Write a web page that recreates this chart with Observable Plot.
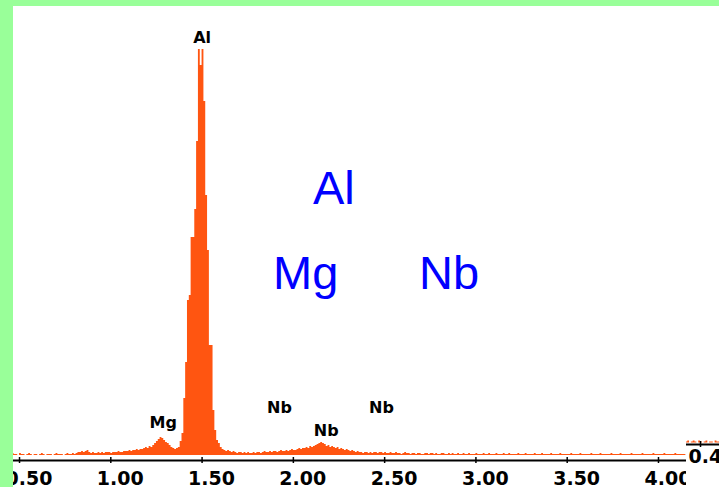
<!DOCTYPE html>
<html>
<head>
<meta charset="utf-8">
<script src="https://cdn.jsdelivr.net/npm/d3@7"></script>
<script src="https://cdn.jsdelivr.net/npm/@observablehq/plot@0.6"></script>
<style>
  html, body { margin: 0; padding: 0; }
  body { width: 719px; height: 487px; background: #99ff99; position: relative; overflow: hidden; }
  #main { position: absolute; left: 13px; top: 6px; }
  #inset { position: absolute; left: 686px; top: 420px; }
  .big { position: absolute; font-family: "Liberation Sans", Arial, sans-serif; font-size: 47px; line-height: 1; color: #0000ff; white-space: pre; }
</style>
</head>
<body>
<div id="main"></div>
<div id="inset"></div>
<div class="big" style="left:313px; top:164px;">Al</div>
<div class="big" style="left:273px; top:249px;">Mg</div>
<div class="big" style="left:419px; top:249px;">Nb</div>
<script>
// ---- data ----
const energyStart = 0.46;   // keV, first channel
const channelWidth = 0.01;  // keV per channel
const counts = [
  2,1,1,0,2,1,1,0,1,2,
  1,0,1,1,0,1,2,1,0,1,
  1,1,0,1,2,1,1,1,0,1,
  2,1,1,2,1,2,3,3,4,3,
  4,5,3,2,3,2,2,3,2,3,
  2,3,3,3,2,3,3,3,4,3,
  3,4,4,4,5,4,5,5,6,5,
  6,6,7,8,7,9,8,10,12,14,
  16,18,17,15,13,12,10,8,7,6,
  7,8,14,22,57,93,155,160,218,218,
  246,314,406,390,406,354,260,205,110,110,
  45,25,15,12,8,6,5,4,5,4,
  3,4,3,2,3,3,2,3,2,3,
  2,2,3,2,3,3,2,3,4,3,
  3,4,3,4,4,3,4,5,4,4,
  5,4,5,6,5,5,6,7,6,7,
  7,8,7,9,8,9,10,11,12,13,
  12,11,9,10,8,9,8,7,8,6,
  7,6,5,6,5,4,5,4,3,4,
  3,3,2,3,3,2,3,2,3,3,
  2,3,3,2,3,2,2,3,2,2,
  3,2,2,1,2,3,2,2,1,2,
  2,1,2,2,1,1,2,2,1,2,
  2,1,2,1,1,2,2,1,1,2,
  1,2,1,1,2,1,1,2,1,1,
  2,1,1,1,2,1,1,1,2,1,
  1,2,1,1,1,2,1,1,1,2,
  1,1,2,1,1,1,1,2,1,1,
  1,2,1,1,1,1,2,1,1,1,
  2,1,1,1,1,2,1,1,1,1,
  2,1,1,1,1,1,2,1,1,1,
  1,2,1,1,1,1,1,2,1,1,
  1,1,2,1,1,1,1,1,2,1,
  1,1,1,2,1,1,1,1,1,2,
  1,1,1,1,1,2,1,1,1,1,
  1,2,1,1,1,1,1,2,1,1,
  1,1,1,2,1,1,1,1,1
];
const xTicks = [0.5, 1.0, 1.5, 2.0, 2.5, 3.0, 3.5, 4.0];
const peakLabels = ["Al", "Mg", "Nb", "Nb", "Nb"];
const peakEnergies = [1.50, 1.287, 1.924, 2.18, 2.483];
const peakLabelLevels = [417.5, 32.5, 48, 25, 47.5];

// neighbouring panel (partially visible at right edge)
const insetStart = 0.32;
const insetCounts = [1,2,0,1,2,1,0,2,1,0,1,2,0,1,1,0,2,1,1];
const insetTicks = [0.4];

// ---- tables ----
const spectrum = counts.map((c, i) => ({e: energyStart + i * channelWidth, c}));
spectrum.push({e: energyStart + counts.length * channelWidth, c: counts[counts.length - 1]});
const labels = peakLabels.map((label, i) => ({label, e: peakEnergies[i], level: peakLabelLevels[i]}));
const inset = insetCounts.map((c, i) => ({e: insetStart + i * channelWidth, c}));
inset.push({e: insetStart + insetCounts.length * channelWidth, c: insetCounts[insetCounts.length - 1]});

const red = "#ff5511";

const main = Plot.plot({
  width: 706, height: 481,
  marginLeft: 0, marginRight: 34, marginTop: 39, marginBottom: 27,
  x: {domain: [0.467, 4.148], label: null},
  y: {domain: [0, 410], axis: null, insetBottom: 5, label: null},
  style: {background: "white", overflow: "hidden", fontFamily: "DejaVu Sans, sans-serif", color: "black"},
  marks: [
    Plot.areaY(spectrum, {x: "e", y: "c", curve: "step-after", fill: red}),
    Plot.frame({anchor: "bottom", stroke: "black", strokeWidth: 2}),
    Plot.axisX(xTicks, {tickSize: 6, dy: -3, tickFormat: () => "", stroke: "black", strokeWidth: 1.5, strokeOpacity: 1}),
    Plot.axisX(xTicks, {tickSize: 0, tickPadding: 11, tickFormat: d3.format(".2f"), textAnchor: "start", dx: -14, fontSize: 19, fontWeight: "bold", fill: "black"}),
    Plot.text(labels, {x: "e", y: "level", text: "label", fontSize: 16, fontWeight: "bold", fill: "black", lineAnchor: "middle", letterSpacing: "0.5px"})
  ]
});
document.getElementById("main").appendChild(main);

const side = Plot.plot({
  width: 33, height: 67,
  marginLeft: 0, marginRight: 0, marginTop: 2.5, marginBottom: 43,
  x: {domain: [0.3233, 0.504], label: null},
  y: {domain: [0, 20], axis: null, insetBottom: 1.5, label: null},
  style: {background: "white", overflow: "hidden", fontFamily: "DejaVu Sans, sans-serif", color: "black"},
  marks: [
    Plot.areaY(inset, {x: "e", y: "c", curve: "step-after", fill: red}),
    Plot.frame({anchor: "bottom", stroke: "black", strokeWidth: 2}),
    Plot.axisX(insetTicks, {tickSize: 6, dy: -3, tickFormat: () => "", stroke: "black", strokeWidth: 1.5, strokeOpacity: 1}),
    Plot.axisX(insetTicks, {tickSize: 0, tickPadding: 5, tickFormat: d3.format(".2f"), textAnchor: "start", dx: -12, fontSize: 19, fontWeight: "bold", fill: "black"})
  ]
});
document.getElementById("inset").appendChild(side);
</script>
</body>
</html>
